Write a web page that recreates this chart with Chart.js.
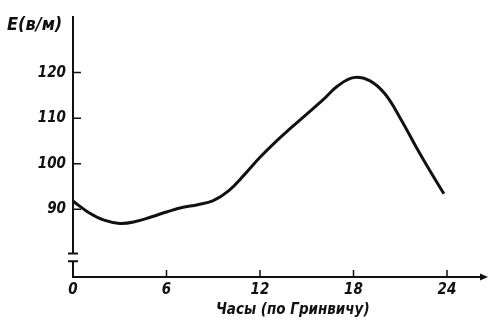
<!DOCTYPE html>
<html>
<head>
<meta charset="utf-8">
<script src="https://cdn.jsdelivr.net/npm/chart.js@4"></script>
<style>
  html, body { margin: 0; padding: 0; background: #fff; }
</style>
</head>
<body>
<canvas id="chart" width="491" height="320"></canvas>
<script>
// data
const hours = [0, 1, 2, 3, 4, 5, 6, 7, 8, 9, 10, 11, 12, 13, 14, 15, 16, 17, 18, 19, 20, 21, 22, 23, 23.8];
const fieldValues = [91.8, 89.3, 87.6, 86.9, 87.3, 88.3, 89.4, 90.4, 91.0, 91.9, 94.1, 97.6, 101.4, 104.8, 107.9, 110.9, 113.9, 117.1, 118.9, 118.3, 115.4, 110.0, 103.8, 97.9, 93.4];
const xTicks = [0, 6, 12, 18, 24];
const yTicks = [90, 100, 110, 120];
const yTitle = 'E(в/м)';
const xTitle = 'Часы (по Гринвичу)';

const ink = '#111';
const font = { family: '"DejaVu Sans Condensed", "DejaVu Sans", sans-serif', size: 15, style: 'italic', weight: 'bold' };
const fontStr = 'italic bold 15px "DejaVu Sans Condensed", "DejaVu Sans", sans-serif';
const bigFontStr = 'italic bold 18px "DejaVu Sans Condensed", "DejaVu Sans", sans-serif';

// axes, broken y axis, inward ticks, arrow and titles
const axesPlugin = {
  id: 'axes',
  afterDraw(chart) {
    const ctx = chart.ctx;
    const area = chart.chartArea;
    const xs = chart.scales.x;
    const ys = chart.scales.y;
    const breakTop = ys.getPixelForValue(80.3);
    const breakBottom = ys.getPixelForValue(78.6);

    ctx.save();
    ctx.strokeStyle = ink;
    ctx.fillStyle = ink;
    ctx.lineWidth = 2;
    ctx.lineCap = 'butt';

    // y axis with a break
    ctx.beginPath();
    ctx.moveTo(area.left, area.top);
    ctx.lineTo(area.left, breakTop);
    ctx.moveTo(area.left - 5, breakTop);
    ctx.lineTo(area.left + 5, breakTop);
    ctx.moveTo(area.left - 5, breakBottom);
    ctx.lineTo(area.left + 5, breakBottom);
    ctx.moveTo(area.left, breakBottom);
    ctx.lineTo(area.left, area.bottom);
    // x axis
    ctx.lineTo(area.right - 6, area.bottom);
    ctx.stroke();

    // arrow head
    ctx.beginPath();
    ctx.moveTo(area.right, area.bottom);
    ctx.lineTo(area.right - 8, area.bottom - 3.5);
    ctx.lineTo(area.right - 8, area.bottom + 3.5);
    ctx.closePath();
    ctx.fill();

    // tick marks pointing into the plot
    ctx.lineWidth = 1.5;
    ctx.beginPath();
    yTicks.forEach(v => {
      const py = ys.getPixelForValue(v);
      ctx.moveTo(area.left, py);
      ctx.lineTo(area.left + 8, py);
    });
    xTicks.slice(1).forEach(v => {
      const px = xs.getPixelForValue(v);
      ctx.moveTo(px, area.bottom);
      ctx.lineTo(px, area.bottom - 7);
    });
    ctx.stroke();

    // titles
    ctx.textBaseline = 'middle';
    ctx.textAlign = 'left';
    ctx.font = bigFontStr;
    ctx.fillText(yTitle, area.left - 66, area.top + 9);
    ctx.font = fontStr;
    ctx.textAlign = 'center';
    ctx.fillText(xTitle, xs.getPixelForValue(14.1), area.bottom + 33);
    ctx.restore();
  }
};

const data = {
  datasets: [{
    data: hours.map((h, i) => ({ x: h, y: fieldValues[i] })),
    borderColor: ink,
    borderWidth: 3,
    pointRadius: 0,
    fill: false,
    tension: 0.4
  }]
};

const config = {
  type: 'line',
  data: data,
  options: {
    responsive: false,
    animation: false,
    layout: { padding: { top: 12, right: 3, left: 0, bottom: 0 } },
    plugins: {
      legend: { display: false },
      tooltip: { enabled: false }
    },
    scales: {
      x: {
        type: 'linear',
        min: 0,
        max: 26.63,
        afterBuildTicks: s => { s.ticks = xTicks.map(v => ({ value: v })); },
        afterFit: s => { s.height = 43; },
        grid: { display: false, drawTicks: false },
        border: { display: false },
        ticks: { color: ink, font: font, padding: 4, maxRotation: 0 }
      },
      y: {
        type: 'linear',
        min: 75.13,
        max: 132.43,
        afterBuildTicks: s => { s.ticks = yTicks.map(v => ({ value: v })); },
        afterFit: s => { s.width = 73; },
        grid: { display: false, drawTicks: false },
        border: { display: false },
        ticks: { color: ink, font: font, padding: 7 }
      }
    }
  },
  plugins: [axesPlugin]
};

new Chart(document.getElementById('chart').getContext('2d'), config);
</script>
</body>
</html>
